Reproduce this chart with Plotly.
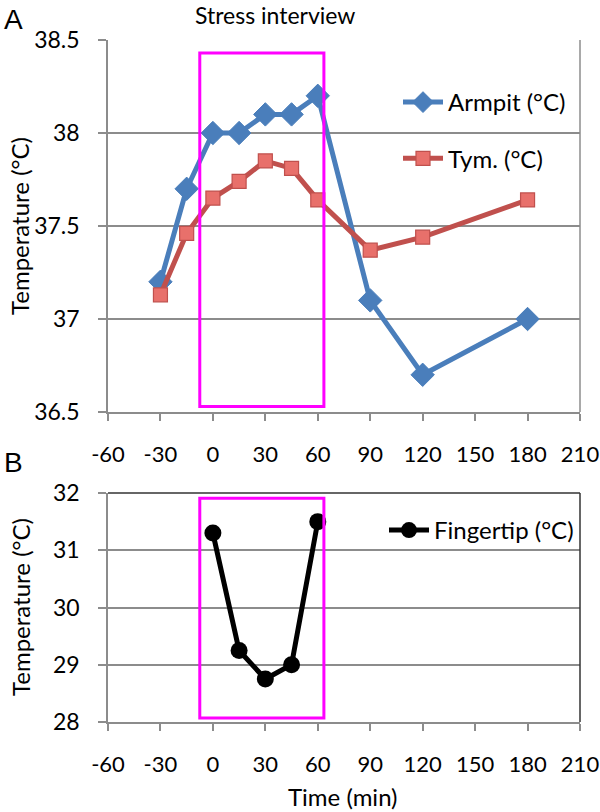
import plotly.graph_objects as go

# ---- data ----
time_core = [-30, -15, 0, 15, 30, 45, 60, 90, 120, 180]
armpit = [37.2, 37.7, 38.0, 38.0, 38.1, 38.1, 38.2, 37.1, 36.7, 37.0]
tym = [37.13, 37.46, 37.65, 37.74, 37.85, 37.81, 37.64, 37.37, 37.44, 37.64]
time_finger = [0, 15, 30, 45, 60]
fingertip = [31.3, 29.25, 28.75, 29.0, 31.5]

x_ticks = [-60, -30, 0, 30, 60, 90, 120, 150, 180, 210]
x_ticktext = ["-60", "-30", "0", "30", "60", "90", "120", "150", "180", "210"]
yA_ticks = [36.5, 37, 37.5, 38, 38.5]
yA_ticktext = ["36.5", "37", "37.5", "38", "38.5"]
yB_ticks = [28, 29, 30, 31, 32]
yB_ticktext = ["28", "29", "30", "31", "32"]

# stress interview window (boxes)
boxA = dict(x0=-7.5, x1=63.5, y0=36.53, y1=38.43)
boxB = dict(x0=-7.5, x1=63.5, y0=28.07, y1=31.91)

W, H = 600, 812
FONT = "Lato"
GRID = "#8c8c8c"
X_LEFT, X_RIGHT = 108, 580

def px_x(p):
    return p / W

def px_y(p):
    return 1 - p / H

fig = go.Figure()

fig.add_trace(go.Scatter(
    x=time_core, y=armpit, mode="lines+markers", name="Armpit (°C)",
    line=dict(color="#4a7ebb", width=5),
    marker=dict(symbol="diamond", size=18, color="#4a7ebb",
                line=dict(color="#4a7ebb", width=1)),
    xaxis="x", yaxis="y", legend="legend", legendgroup="a"))
fig.add_trace(go.Scatter(
    x=time_core, y=tym, mode="lines+markers", name="Tym. (°C)",
    line=dict(color="#c0504d", width=5),
    marker=dict(symbol="square", size=14, color="#e8706b",
                line=dict(color="#c0504d", width=1.2)),
    xaxis="x", yaxis="y", legend="legend", legendgroup="b"))
fig.add_trace(go.Scatter(
    x=time_finger, y=fingertip, mode="lines+markers", name="Fingertip (°C)",
    line=dict(color="black", width=5),
    marker=dict(symbol="circle", size=17, color="black"),
    xaxis="x2", yaxis="y2", legend="legend2"))

for k, b in (("x", boxA), ("x2", boxB)):
    fig.add_shape(type="rect", xref=k, yref="y" if k == "x" else "y2",
                  x0=b["x0"], x1=b["x1"], y0=b["y0"], y1=b["y1"],
                  line=dict(color="#ff00ff", width=3), layer="above")

tickfont = dict(family=FONT, size=22, color="black")
common_x = dict(range=[-60, 210], tickvals=x_ticks, ticktext=x_ticktext,
                showgrid=False, zeroline=False, showline=True, linecolor=GRID,
                linewidth=1.5, ticks="outside", ticklen=7, tickcolor=GRID,
                tickwidth=1.5, tickfont=tickfont, ticklabelstandoff=15,
                domain=[px_x(X_LEFT), px_x(X_RIGHT)], automargin=False,
                ticklabeloverflow="allow")
common_y = dict(showgrid=True, gridcolor=GRID, gridwidth=1.5, zeroline=False,
                showline=True, linecolor=GRID, linewidth=1.5, ticks="outside",
                ticklen=8, tickcolor=GRID, tickwidth=1.5,
                tickfont=dict(family=FONT, size=23, color="black"),
                ticklabelstandoff=14, automargin=False)

fig.update_layout(
    template="none",
    width=W, height=H, margin=dict(l=0, r=0, t=0, b=0, pad=0, autoexpand=False),
    paper_bgcolor="white", plot_bgcolor="white",
    xaxis=dict(common_x, anchor="y"),
    xaxis2=dict(common_x, anchor="y2"),
    yaxis=dict(common_y, range=[36.5, 38.5], tickvals=yA_ticks,
               ticktext=yA_ticktext, domain=[px_y(412), px_y(40)], anchor="x"),
    yaxis2=dict(common_y, range=[28, 32], tickvals=yB_ticks,
                ticktext=yB_ticktext, domain=[px_y(722), px_y(493)], anchor="x2"),
    legend=dict(x=px_x(398), y=px_y(80), xanchor="left", yanchor="top",
                font=dict(family=FONT, size=24, color="black"),
                bgcolor="rgba(0,0,0,0)", itemwidth=40, tracegroupgap=22),
    legend2=dict(x=px_x(384), y=px_y(508), xanchor="left", yanchor="top",
                 font=dict(family=FONT, size=24, color="black"),
                 bgcolor="rgba(0,0,0,0)", itemwidth=40),
    showlegend=True,
)

# right / top borders
fig.add_shape(type="line", xref="paper", yref="paper",
              x0=px_x(X_RIGHT), x1=px_x(X_RIGHT), y0=px_y(412), y1=px_y(40),
              line=dict(color=GRID, width=1.5))
fig.add_shape(type="line", xref="paper", yref="paper",
              x0=px_x(X_RIGHT), x1=px_x(X_RIGHT), y0=px_y(722), y1=px_y(493),
              line=dict(color="#333333", width=1.5))
fig.add_shape(type="line", xref="paper", yref="paper",
              x0=px_x(X_LEFT), x1=px_x(X_RIGHT), y0=px_y(493), y1=px_y(493),
              line=dict(color="#333333", width=1.5))

ann_font = dict(family=FONT, size=24, color="black")
fig.add_annotation(text="Temperature (°C)", x=px_x(20), y=px_y(226),
                   xref="paper", yref="paper", textangle=-90, showarrow=False,
                   font=ann_font, xanchor="center", yanchor="middle")
fig.add_annotation(text="Temperature (°C)", x=px_x(20), y=px_y(607),
                   xref="paper", yref="paper", textangle=-90, showarrow=False,
                   font=ann_font, xanchor="center", yanchor="middle")
fig.add_annotation(text="Time (min)", x=px_x(343), y=px_y(796),
                   xref="paper", yref="paper", showarrow=False,
                   font=ann_font, xanchor="center", yanchor="middle")
fig.add_annotation(text="Stress interview", x=px_x(275), y=px_y(15),
                   xref="paper", yref="paper", showarrow=False,
                   font=dict(family=FONT, size=23, color="black"),
                   xanchor="center", yanchor="middle")
fig.add_annotation(text="A", x=px_x(2), y=px_y(20), xref="paper", yref="paper",
                   showarrow=False, xanchor="left", yanchor="middle",
                   font=dict(family="Liberation Sans", size=28, color="black"))
fig.add_annotation(text="B", x=px_x(2), y=px_y(462), xref="paper", yref="paper",
                   showarrow=False, xanchor="left", yanchor="middle",
                   font=dict(family="Liberation Sans", size=28, color="black"))

fig.write_html(
    "out.html",
    config={"displayModeBar": False},
    post_script="document.body.style.margin='0';document.body.style.padding='0';",
)
